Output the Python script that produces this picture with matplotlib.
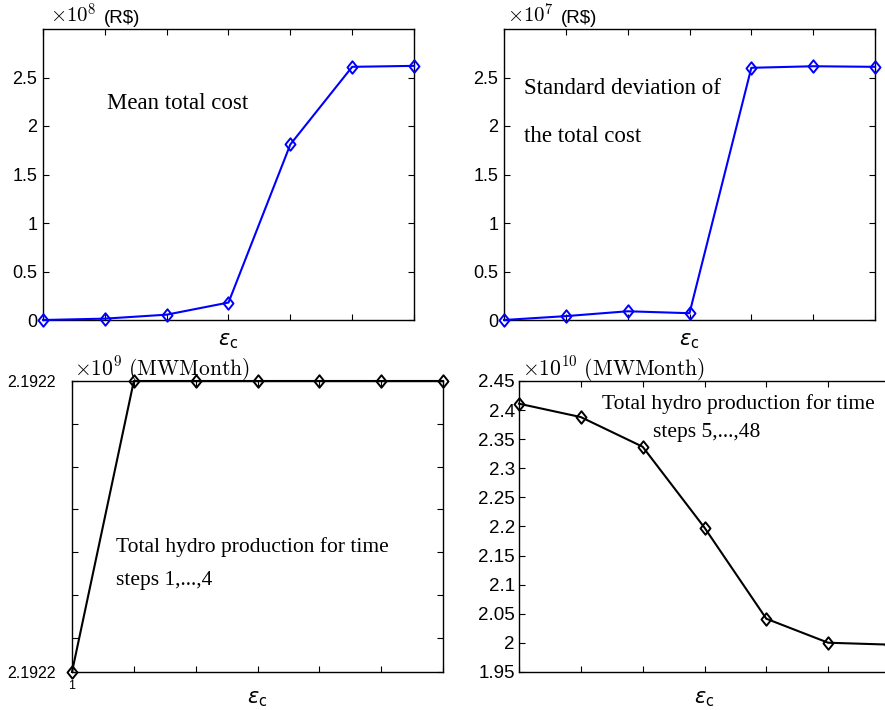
import numpy as np
import matplotlib
matplotlib.use("Agg")
from matplotlib import pyplot as plt
from matplotlib.path import Path
from matplotlib.ticker import FixedLocator, NullFormatter

# =======================================================
#   Data (x = epsilon_c index)
# =======================================================
eps_idx = [1, 2, 3, 4, 5, 6, 7]

mean_cost = [0.0, 0.014, 0.055, 0.18, 1.81, 2.61, 2.62]        # x 1e8 R$
std_cost = [0.0, 0.04, 0.09, 0.07, 2.60, 2.616, 2.61]          # x 1e7 R$
hydro_early = [2.192202, 2.19227, 2.19227, 2.19227, 2.19227, 2.19227, 2.19227]  # x 1e9
hydro_late = [2.411, 2.388, 2.337, 2.198, 2.0415, 2.0003, 1.997]  # x 1e10

cost_ticks = [0, 0.5, 1, 1.5, 2, 2.5]
cost_labels = ["0", "0.5", "1", "1.5", "2", "2.5"]
late_ticks = [1.95, 2.0, 2.05, 2.1, 2.15, 2.2, 2.25, 2.3, 2.35, 2.4, 2.45]
late_labels = ["1.95", "2", "2.05", "2.1", "2.15", "2.2", "2.25",
               "2.3", "2.35", "2.4", "2.45"]
early_minor = [2.19221, 2.19222, 2.19223, 2.19224, 2.19225, 2.19226]
# =======================================================

W, H = 885, 710
SANS = "Liberation Sans"
SERIF = "Liberation Serif"

# slightly tall open diamond, like the MATLAB one
DIAMOND = Path([(0, 1), (0.8, 0), (0, -1), (-0.8, 0), (0, 1)],
               [Path.MOVETO, Path.LINETO, Path.LINETO, Path.LINETO, Path.CLOSEPOLY])


def px_axes(fig, x0, y0, x1, y1):
    return fig.add_axes([x0 / W, 1 - y1 / H, (x1 - x0) / W, (y1 - y0) / H])


def style(ax, lsize, pad):
    ax.tick_params(direction="in", length=4, width=0.8, top=True, right=True,
                   labelsize=lsize, pad=pad)
    ax.tick_params(which="minor", direction="in", length=4, width=0.8,
                   top=True, right=True)
    for sp in ax.spines.values():
        sp.set_linewidth(1.0)
    for lab in ax.get_yticklabels() + ax.get_xticklabels():
        lab.set_fontfamily(SANS)
    ax.set_xlim(1, 7)
    ax.set_xticks(eps_idx)
    ax.set_xticklabels([])


def draw(ax, y, color):
    ax.plot(eps_idx, y, color=color, lw=1.5, marker=DIAMOND, ms=9, mfc="none",
            mew=1.4, clip_on=False, zorder=5)


fig = plt.figure(figsize=(W / 100, H / 100), dpi=100)

# top left: mean total cost
ax1 = px_axes(fig, 43, 29, 414, 320)
draw(ax1, mean_cost, "#0000ff")
ax1.set_ylim(0, 3)
ax1.set_yticks(cost_ticks)
ax1.set_yticklabels(cost_labels)
style(ax1, 13, 4)
ax1.text(2.035, 2.18, "Mean total cost", family=SERIF, fontsize=16.5, va="baseline")

# top right: standard deviation
ax2 = px_axes(fig, 504, 29, 875, 320)
draw(ax2, std_cost, "#0000ff")
ax2.set_ylim(0, 3)
ax2.set_yticks(cost_ticks)
ax2.set_yticklabels(cost_labels)
style(ax2, 13, 4)
ax2.text(1.32, 2.33, "Standard deviation of", family=SERIF, fontsize=16.5, va="baseline")
ax2.text(1.32, 1.83, "the total cost", family=SERIF, fontsize=16.5, va="baseline")

# bottom left: hydro production steps 1..4
ax3 = px_axes(fig, 72, 381, 443, 672)
draw(ax3, hydro_early, "black")
ax3.set_ylim(min(hydro_early), max(hydro_early))
ax3.set_yticks([min(hydro_early), max(hydro_early)])
ax3.set_yticklabels(["2.1922", "2.1922"])
ax3.yaxis.set_minor_locator(FixedLocator(early_minor))
ax3.yaxis.set_minor_formatter(NullFormatter())
style(ax3, 11.5, 12)
ax3.set_xticklabels(["1", "", "", "", "", "", ""], fontsize=9, family=SANS)
ax3.tick_params(axis="x", pad=6)
ax3.text(0.118, 0.411, "Total hydro production for time", transform=ax3.transAxes,
         family=SERIF, fontsize=15.5, va="baseline")
ax3.text(0.118, 0.30, "steps 1,...,4", transform=ax3.transAxes,
         family=SERIF, fontsize=15.5, va="baseline")

# bottom right: hydro production steps 5..48 (cut at the right edge)
ax4 = px_axes(fig, 519, 381, 890, 672)
draw(ax4, hydro_late, "black")
ax4.set_ylim(1.95, 2.45)
ax4.set_yticks(late_ticks)
ax4.set_yticklabels(late_labels)
style(ax4, 13.5, 3)
ax4.tick_params(right=False)
ax4.text(0.224, 0.905, "Total hydro production for time", transform=ax4.transAxes,
         family=SERIF, fontsize=15.5, va="baseline")
ax4.text(0.362, 0.809, "steps 5,...,48", transform=ax4.transAxes,
         family=SERIF, fontsize=15.5, va="baseline")


# exponent / unit labels above each panel
def top_label(x, y, s, fam, size):
    fig.text(x / W, 1 - y / H, s, family=fam, fontsize=size, va="baseline",
             math_fontfamily="cm")


top_label(50, 23, r"$\times10^{8}$", SANS, 15)
top_label(104, 23, "(R$)", SANS, 13.5)
top_label(507, 23, r"$\times10^{7}$", SANS, 15)
top_label(561, 23, "(R$)", SANS, 13.5)
top_label(74, 375, r"$\times10^{9}\ \mathrm{(MWMonth)}$", SERIF, 15.5)
top_label(522, 375, r"$\times10^{10}\ \mathrm{(MWMonth)}$", SERIF, 15.5)

# x labels
for xc, yb in [(228.5, 345), (689.5, 345), (257.5, 703), (704, 703)]:
    fig.text(xc / W, 1 - yb / H, r"$\varepsilon_{\mathrm{c}}$", fontsize=15,
             ha="center", va="baseline")

fig.savefig("out.png", dpi=100)
